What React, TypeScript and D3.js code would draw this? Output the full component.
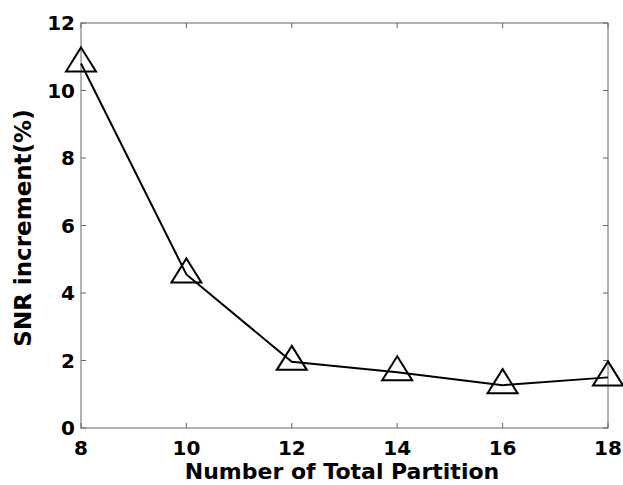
import React from "react";
import * as d3 from "d3";

const partitions = [8, 10, 12, 14, 16, 18];
const snrIncrement = [10.8, 4.55, 1.96, 1.65, 1.27, 1.5];
const xTicks = [8, 10, 12, 14, 16, 18];
const yTicks = [0, 2, 4, 6, 8, 10, 12];

const W = 623;
const H = 485;
const M = { left: 81, right: 608, top: 23, bottom: 428 };
const FONT = "'DejaVu Sans', Verdana, sans-serif";
const AXIS = "#666";

export default function App() {
  const x = d3.scaleLinear().domain([8, 18]).range([M.left, M.right]);
  const y = d3.scaleLinear().domain([0, 12]).range([M.bottom, M.top]);
  const line = d3
    .line<number>()
    .x((_, i) => x(partitions[i]))
    .y((d) => y(d));
  const tw = 15;
  const th = 24;
  const tri = (cx: number, cy: number) =>
    `M${cx},${cy - (2 * th) / 3} L${cx + tw},${cy + th / 3} L${cx - tw},${cy + th / 3} Z`;
  const tickLen = 5;
  return (
    <svg
      width={W}
      height={H}
      style={{ position: "absolute", left: 0, top: 0, background: "#fff" }}
    >
      <rect x={0} y={0} width={W} height={H} fill="#fff" />
      <rect
        x={M.left}
        y={M.top}
        width={M.right - M.left}
        height={M.bottom - M.top}
        fill="none"
        stroke={AXIS}
        strokeWidth={1}
      />
      {xTicks.map((t) => (
        <g key={"x" + t}>
          <line x1={x(t)} x2={x(t)} y1={M.bottom} y2={M.bottom - tickLen} stroke={AXIS} />
          <line x1={x(t)} x2={x(t)} y1={M.top} y2={M.top + tickLen} stroke={AXIS} />
          <text
            x={x(t)}
            y={455}
            textAnchor="middle"
            fontFamily={FONT}
            fontWeight="bold"
            fontSize={20}
            fill="#000"
          >
            {t}
          </text>
        </g>
      ))}
      {yTicks.map((t) => (
        <g key={"y" + t}>
          <line x1={M.left} x2={M.left + tickLen} y1={y(t)} y2={y(t)} stroke={AXIS} />
          <line x1={M.right} x2={M.right - tickLen} y1={y(t)} y2={y(t)} stroke={AXIS} />
          <text
            x={M.left - 6}
            y={y(t)}
            dy="0.36em"
            textAnchor="end"
            fontFamily={FONT}
            fontWeight="bold"
            fontSize={20}
            fill="#000"
          >
            {t}
          </text>
        </g>
      ))}
      <path
        d={line(snrIncrement) || ""}
        fill="none"
        stroke="#000"
        strokeWidth={2}
      />
      {snrIncrement.map((v, i) => (
        <path
          key={"m" + i}
          d={tri(x(partitions[i]), y(v))}
          fill="none"
          stroke="#000"
          strokeWidth={2}
        />
      ))}
      <text
        x={342}
        y={479}
        textAnchor="middle"
        fontFamily={FONT}
        fontWeight="bold"
        fontSize={22}
        fill="#000"
      >
        Number of Total Partition
      </text>
      <text
        transform={`translate(${31},${228}) rotate(-90)`}
        textAnchor="middle"
        fontFamily={FONT}
        fontWeight="bold"
        fontSize={23}
        fill="#000"
      >
        SNR increment(%)
      </text>
    </svg>
  );
}
